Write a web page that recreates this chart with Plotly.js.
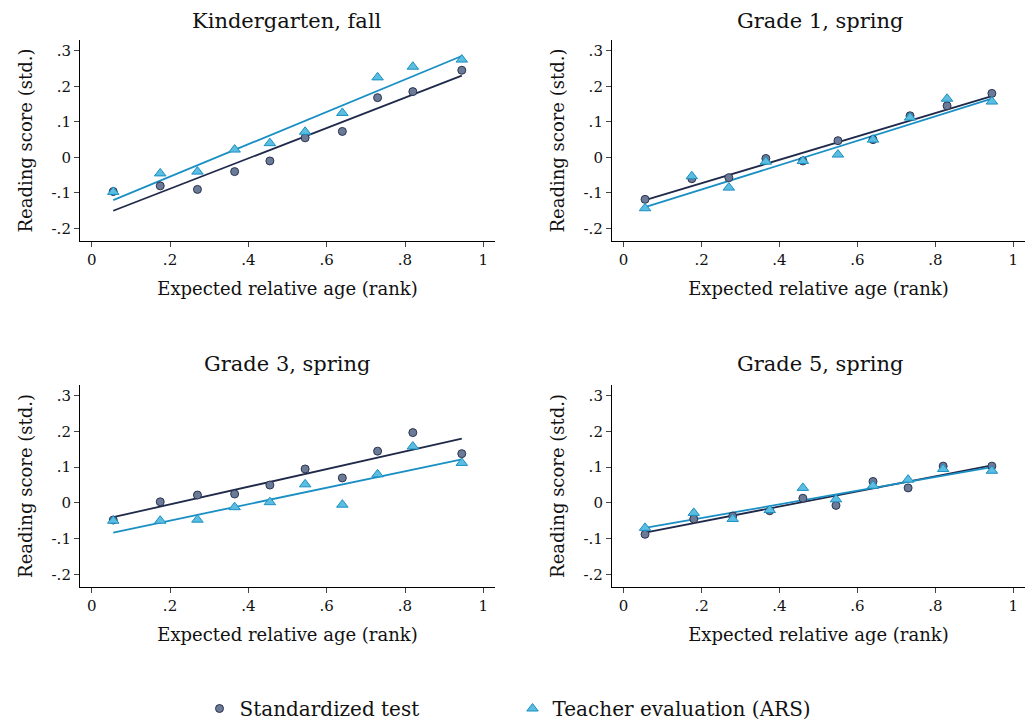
<!DOCTYPE html>
<html><head><meta charset="utf-8">
<script src="https://cdn.plot.ly/plotly-3.0.1.min.js"></script>
<style>body{margin:0;background:#fff}</style></head>
<body><div id="chart" style="width:1025px;height:728px"></div>
<script>
// panels and shared x positions
const panels = ["Kindergarten, fall", "Grade 1, spring", "Grade 3, spring", "Grade 5, spring"];
const xK  = [0.055, 0.175, 0.27, 0.365, 0.455, 0.545, 0.64, 0.73, 0.82, 0.945];
const xG1 = [0.055, 0.175, 0.27, 0.365, 0.46, 0.55, 0.64, 0.735, 0.83, 0.945];
const xG3 = [0.055, 0.175, 0.27, 0.365, 0.455, 0.545, 0.64, 0.73, 0.82, 0.945];
const xG5 = [0.055, 0.18, 0.28, 0.375, 0.46, 0.545, 0.64, 0.73, 0.82, 0.945];

const testK  = [-0.096, -0.08, -0.09, -0.04, -0.01, 0.055, 0.073, 0.168, 0.185, 0.245];
const arsK   = [-0.097, -0.045, -0.04, 0.022, 0.04, 0.072, 0.125, 0.225, 0.255, 0.275];
const testG1 = [-0.118, -0.06, -0.057, -0.003, -0.01, 0.047, 0.05, 0.117, 0.145, 0.18];
const arsG1  = [-0.143, -0.053, -0.085, -0.012, -0.01, 0.008, 0.05, 0.112, 0.165, 0.157];
const testG3 = [-0.048, 0.003, 0.022, 0.025, 0.05, 0.095, 0.07, 0.145, 0.197, 0.138];
const arsG3  = [-0.05, -0.05, -0.047, -0.012, 0.002, 0.052, -0.005, 0.08, 0.158, 0.112];
const testG5 = [-0.088, -0.045, -0.037, -0.022, 0.013, -0.007, 0.06, 0.042, 0.103, 0.103];
const arsG5  = [-0.07, -0.028, -0.045, -0.02, 0.042, 0.01, 0.048, 0.065, 0.095, 0.09];

// fitted line endpoints at x = 0.055 and 0.945
const fitX = [0.055, 0.945];
const fitTest = [[-0.15, 0.23], [-0.12, 0.172], [-0.04, 0.18], [-0.083, 0.105]];
const fitArs  = [[-0.12, 0.285], [-0.14, 0.165], [-0.083, 0.122], [-0.07, 0.1]];

const xs = [xK, xG1, xG3, xG5];
const tests = [testK, testG1, testG3, testG5];
const arss = [arsK, arsG1, arsG3, arsG5];

const navy = '#1f2a4a', blue = '#1a8fc4';
const traces = [];
const axn = ['', '2', '3', '4'];
for (let i = 0; i < 4; i++) {
  const xa = 'x' + axn[i], ya = 'y' + axn[i];
  traces.push({x: fitX, y: fitTest[i], xaxis: xa, yaxis: ya, mode: 'lines',
    line: {color: navy, width: 1.8}, showlegend: false, hoverinfo: 'skip'});
  traces.push({x: fitX, y: fitArs[i], xaxis: xa, yaxis: ya, mode: 'lines',
    line: {color: blue, width: 1.8}, showlegend: false, hoverinfo: 'skip'});
  traces.push({x: xs[i], y: tests[i], xaxis: xa, yaxis: ya, mode: 'markers',
    name: 'Standardized test', showlegend: i === 0,
    marker: {symbol: 'circle', size: 8, color: '#6b7a96', line: {color: '#2a3450', width: 1}}});
  traces.push({x: xs[i], y: arss[i], xaxis: xa, yaxis: ya, mode: 'markers',
    name: 'Teacher evaluation (ARS)', showlegend: i === 0,
    marker: {symbol: 'triangle-up', size: 10, color: '#5bbde0', line: {color: '#1a8fc4', width: 1}}});
}

const font = {family: 'DejaVu Serif, serif', color: '#111', size: 15};
function xaxis(dom, anchor) {
  return {domain: dom, anchor: anchor, range: [-0.03, 1.03], tickvals: [0, 0.2, 0.4, 0.6, 0.8, 1],
    ticktext: ['0', '.2', '.4', '.6', '.8', '1'], ticks: 'outside', ticklen: 5, showgrid: false,
    zeroline: false, showline: true, linecolor: '#000', tickfont: {size: 15},
    title: {text: 'Expected relative age (rank)', font: {size: 18}, standoff: 14}};
}
function yaxis(dom, anchor) {
  return {domain: dom, anchor: anchor, range: [-0.235, 0.33], tickvals: [-0.2, -0.1, 0, 0.1, 0.2, 0.3],
    ticktext: ['-.2', '-.1', '0', '.1', '.2', '.3'], ticks: 'outside', ticklen: 5, showgrid: false,
    zeroline: false, showline: true, linecolor: '#000', tickfont: {size: 15},
    title: {text: 'Reading score (std.)', font: {size: 18}, standoff: 14}};
}
const dL = [0.078, 0.483], dR = [0.597, 1.0], dT = [0.669, 0.945], dB = [0.194, 0.471];
const layout = {
  font: font, paper_bgcolor: '#fff', plot_bgcolor: '#fff',
  margin: {l: 0, r: 0, t: 0, b: 0},
  xaxis: xaxis(dL, 'y'), yaxis: yaxis(dT, 'x'),
  xaxis2: xaxis(dR, 'y2'), yaxis2: yaxis(dT, 'x2'),
  xaxis3: xaxis(dL, 'y3'), yaxis3: yaxis(dB, 'x3'),
  xaxis4: xaxis(dR, 'y4'), yaxis4: yaxis(dB, 'x4'),
  legend: {orientation: 'h', x: 0.5, xanchor: 'center', y: 0.0, yanchor: 'bottom', font: {size: 20},
    itemwidth: 30, entrywidth: 268},
  annotations: [
    {text: panels[0], x: 0.28, y: 0.99, yanchor: 'top', xanchor: 'center', xref: 'paper', yref: 'paper', showarrow: false, font: {size: 21}},
    {text: panels[1], x: 0.80, y: 0.99, yanchor: 'top', xanchor: 'center', xref: 'paper', yref: 'paper', showarrow: false, font: {size: 21}},
    {text: panels[2], x: 0.28, y: 0.50, xanchor: 'center', xref: 'paper', yref: 'paper', showarrow: false, font: {size: 21}},
    {text: panels[3], x: 0.80, y: 0.50, xanchor: 'center', xref: 'paper', yref: 'paper', showarrow: false, font: {size: 21}}
  ]
};
Plotly.newPlot('chart', traces, layout, {displayModeBar: false});
</script></body></html>
